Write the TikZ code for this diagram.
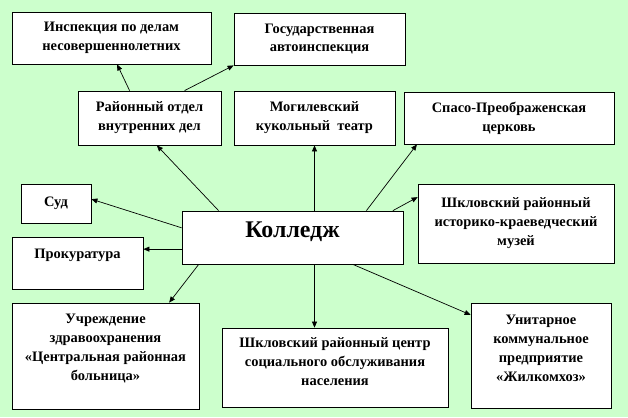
\documentclass[tikz,border=0pt]{standalone}
\usepackage{fontspec}
\setmainfont{Liberation Serif}
\usepackage{tikz}
\usepackage{xcolor}
\usetikzlibrary{arrows.meta,positioning,shapes}
\definecolor{bggreen}{RGB}{204,255,204}
\begin{document}
\begin{tikzpicture}[x=1bp, y=-1bp]
        \tikzstyle{box} = [draw, fill=white, line width=0.8bp, align=center, inner sep=0pt,
                           font=\bfseries\fontsize{14.5}{19}\selectfont]
        \tikzstyle{lift} = [text depth=#1]
        \tikzstyle{arr} = [line width=0.7bp, -{Triangle[length=6bp,width=5bp]}]
        \fill[bggreen] (0,0) rectangle (628,417);
        \node[box, minimum width=199bp, minimum height=52bp] (ipdn) at (111.5,38) {Инспекция по делам\\несовершеннолетних};
        \node[box, minimum width=171bp, minimum height=52bp] (gai) at (319.5,39) {Государственная\\автоинспекция};
        \node[box, minimum width=143bp, minimum height=54bp] (rovd) at (149.5,118) {Районный отдел\\внутренних дел};
        \node[box, minimum width=161bp, minimum height=54bp] (teatr) at (314.5,118) {Могилевский\\кукольный~ театр};
        \node[box, minimum width=210bp, minimum height=52bp] (church) at (509,118) {Спасо-Преображенская\\церковь};
        \node[box, minimum width=196bp, minimum height=79bp] (muzey) at (516,223.5) {Шкловский районный\\историко-краеведческий\\музей};
        \node[box, minimum width=221bp, minimum height=53bp, lift=16bp,
              font=\bfseries\fontsize{24}{28}\selectfont] (college) at (292.5,237.5) {Колледж};
        \node[box, minimum width=70bp, minimum height=39bp] (sud) at (56,203.5) {Суд};
        \node[box, minimum width=131bp, minimum height=52bp, lift=19bp] (prok) at (77.5,263) {Прокуратура};
        \node[box, minimum width=187bp, minimum height=106bp, lift=17bp] (crb) at (105.5,356) {Учреждение\\здравоохранения\\«Центральная районная\\больница»};
        \node[box, minimum width=226bp, minimum height=79bp, lift=12bp] (soc) at (335,367.5) {Шкловский районный центр\\социального обслуживания\\населения};
        \node[box, minimum width=140bp, minimum height=105bp, lift=14bp] (zhkh) at (541,355.5) {Унитарное\\коммунальное\\предприятие\\«Жилкомхоз»};

        \draw[arr] (rovd.126) -- (ipdn.282);
        \draw[arr] (rovd.38) -- (gai.south west);
        \draw[arr] (college.160) -- (rovd.285);
        \draw[arr] (college.north -| teatr.south) -- (teatr.south);
        \draw[arr] (college.20) -- (church.196);
        \draw[arr] (college.15) -- (muzey.165);
        \draw[arr] (college.175) -- (sud.7);
        \draw[arr] (college.186) -- (prok.east |- college.186);
        \draw[arr] (college.196) -- (crb.40);
        \draw[arr] (college.south -| teatr.south) -- (soc.north -| teatr.south);
        \draw[arr] (college.336) -- (zhkh.150);
\end{tikzpicture}
\end{document}
